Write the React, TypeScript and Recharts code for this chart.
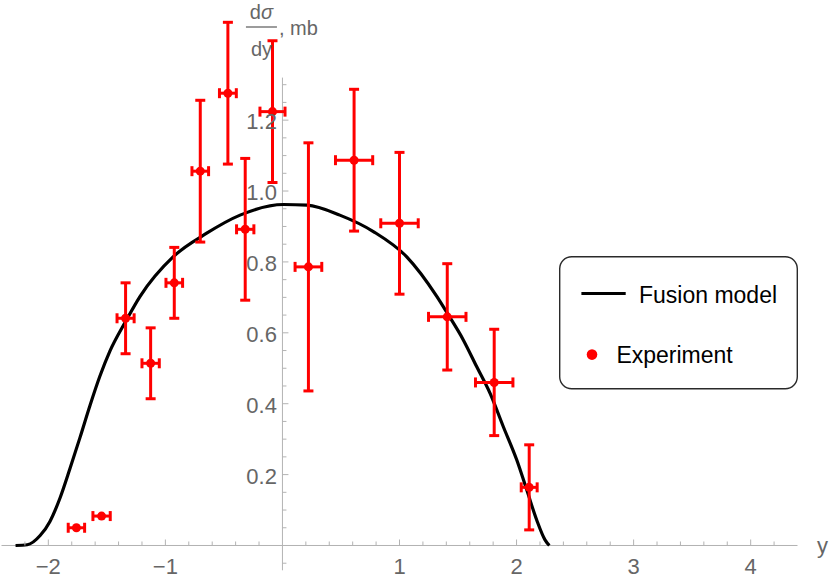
import React from 'react';
import {
  ComposedChart,
  Line,
  Scatter,
  XAxis,
  YAxis,
  ErrorBar,
  ReferenceLine,
  Legend,
} from 'recharts';

// ---------- data ----------
const EXP_X = [-1.76, -1.545, -1.34, -1.126, -0.924, -0.702, -0.466, -0.318, -0.085, 0.222, 0.612, 1.0, 1.408, 1.809, 2.108];
const EXP_Y = [0.05, 0.083, 0.641, 0.514, 0.741, 1.056, 1.276, 0.892, 1.224, 0.786, 1.087, 0.909, 0.645, 0.46, 0.164];
const EXP_DX = [0.07, 0.074, 0.073, 0.074, 0.071, 0.071, 0.072, 0.074, 0.107, 0.114, 0.159, 0.16, 0.16, 0.16, 0.068];
const EXP_DY = [0, 0, 0.1, 0.1, 0.1, 0.2, 0.2, 0.2, 0.2, 0.35, 0.2, 0.2, 0.15, 0.15, 0.12];

const MODEL_X = [-2.28, -2.18, -2.07, -1.986, -1.9, -1.815, -1.729, -1.644, -1.559, -1.473, -1.345, -1.216, -0.932, -0.647, -0.362, 0.01, 0.21, 0.49, 0.78, 1.06, 1.32, 1.409, 1.545, 1.66, 1.774, 1.887, 2.002, 2.087, 2.172, 2.243, 2.28];
const MODEL_Y = [0, 0.002, 0.028, 0.068, 0.134, 0.217, 0.305, 0.395, 0.478, 0.549, 0.629, 0.703, 0.815, 0.881, 0.932, 0.962, 0.96, 0.932, 0.885, 0.815, 0.702, 0.655, 0.58, 0.504, 0.429, 0.335, 0.241, 0.157, 0.072, 0.016, 0];

const X_TICKS = [-2.2, -2, -1.8, -1.6, -1.4, -1.2, -1, -0.8, -0.6, -0.4, -0.2, 0.2, 0.4, 0.6, 0.8, 1, 1.2, 1.4, 1.6, 1.8, 2, 2.2, 2.4, 2.6, 2.8, 3, 3.2, 3.4, 3.6, 3.8, 4, 4.2];
const X_LABELS = [-2, -1, 1, 2, 3, 4];
const Y_TICKS = [-0.05, 0.05, 0.1, 0.15, 0.2, 0.25, 0.3, 0.35, 0.4, 0.45, 0.5, 0.55, 0.6, 0.65, 0.7, 0.75, 0.8, 0.85, 0.9, 0.95, 1.0, 1.05, 1.1, 1.15, 1.2, 1.25, 1.3];
const Y_LABELS = [0.2, 0.4, 0.6, 0.8, 1.0, 1.2];

const X_DOMAIN: [number, number] = [-2.4, 4.4];
const Y_DOMAIN: [number, number] = [-0.07, 1.32];

const SERIES_MODEL = 'Fusion model';
const SERIES_EXP = 'Experiment';
const X_TITLE = 'y';

const EXP_DATA = EXP_X.map((x, i) => ({ x, y: EXP_Y[i], ex: EXP_DX[i], ey: EXP_DY[i] }));
const MODEL_DATA = MODEL_X.map((x, i) => ({ x, y: MODEL_Y[i] }));

// ---------- layout ----------
const W = 830;
const H = 580;
const PLOT_LEFT = 1.5;
const PLOT_RIGHT = 797.5;
const PLOT_TOP = 77.6;
const PLOT_BOTTOM = 570.3;
const AXIS_X_H = 1;
const AXIS_Y_W = 1;
const X0_PX = PLOT_LEFT + ((0 - X_DOMAIN[0]) / (X_DOMAIN[1] - X_DOMAIN[0])) * (PLOT_RIGHT - PLOT_LEFT);
const Y0_PX = PLOT_TOP + ((Y_DOMAIN[1] - 0) / (Y_DOMAIN[1] - Y_DOMAIN[0])) * (PLOT_BOTTOM - PLOT_TOP);

const AXIS_COLOR = '#b3b3b3';
const TEXT_COLOR = '#666666';
const RED = '#ff0000';
const FONT = '"Liberation Sans", Arial, sans-serif';

const isIn = (v: number, list: number[]) => list.some((l) => Math.abs(l - v) < 1e-6);
const fmtX = (v: number) => (v < 0 ? '\u2212' + Math.abs(v) : String(v));

function XTick(props: any) {
  const { x, payload } = props;
  const v = payload.value as number;
  const major = isIn(v, X_LABELS);
  return (
    <g>
      <line x1={x} x2={x} y1={Y0_PX} y2={Y0_PX - (major ? 6 : 4)} stroke={AXIS_COLOR} strokeWidth={1} />
      {major && (
        <text x={x} y={Y0_PX + 13} dy="0.71em" textAnchor="middle" fontSize={22} fill={TEXT_COLOR} fontFamily={FONT}>
          {fmtX(v)}
        </text>
      )}
    </g>
  );
}

function YTick(props: any) {
  const { y, payload } = props;
  const v = payload.value as number;
  const major = isIn(v, Y_LABELS);
  return (
    <g>
      <line x1={X0_PX} x2={X0_PX + (major ? 6 : 4)} y1={y} y2={y} stroke={AXIS_COLOR} strokeWidth={1} />
      {major && (
        <text x={X0_PX - 5.5} y={y} dy="0.42em" textAnchor="end" fontSize={22} fill={TEXT_COLOR} fontFamily={FONT}>
          {v.toFixed(1)}
        </text>
      )}
    </g>
  );
}

function YTitle() {
  const cx = X0_PX - 21;
  return (
    <g fontFamily={FONT} fill={TEXT_COLOR} fontSize={20}>
      <text x={cx} y={18.5} textAnchor="middle">
        d<tspan fontStyle="italic">σ</tspan>
      </text>
      <line x1={cx - 15.5} x2={cx + 15.5} y1={27} y2={27} stroke={TEXT_COLOR} strokeWidth={1.3} />
      <text x={cx} y={56} textAnchor="middle">dy</text>
      <text x={X0_PX - 3.5} y={35}>, mb</text>
    </g>
  );
}

function XTitle() {
  return (
    <text x={PLOT_RIGHT + 19.5} y={Y0_PX + 7.5} fontSize={22} fill={TEXT_COLOR} fontFamily={FONT}>
      {X_TITLE}
    </text>
  );
}

function LegendBox(props: any) {
  const payload: any[] = props.payload || [];
  const rows = [...payload].sort((a, b) => (a.type === 'line' ? -1 : 1) - (b.type === 'line' ? -1 : 1));
  return (
    <svg width={240} height={135} style={{ display: 'block' }}>
      <rect x={0.7} y={0.7} width={237.6} height={132} rx={12} ry={12} fill="#ffffff" stroke="#2a2a2a" strokeWidth={1.4} />
      {rows.map((p, i) => {
        const isLine = p.type === 'line';
        if (isLine) {
          return (
            <g key={i}>
              <line x1={22.4} x2={66.7} y1={37.6} y2={37.6} stroke="#000" strokeWidth={3} />
              <text x={80} y={46.6} fontSize={23} fill="#000" fontFamily={FONT}>{p.value}</text>
            </g>
          );
        }
        return (
          <g key={i}>
            <circle cx={33} cy={98.6} r={5.3} fill={RED} />
            <text x={57.4} y={106.6} fontSize={23} fill="#000" fontFamily={FONT}>{p.value}</text>
          </g>
        );
      })}
    </svg>
  );
}

export default function App() {
  return (
    <div style={{ position: 'absolute', left: 0, top: 0, width: W, height: H, background: '#fff' }}>
      <ComposedChart
        width={W}
        height={H}
        margin={{
          top: PLOT_TOP,
          right: W - PLOT_RIGHT,
          bottom: H - PLOT_BOTTOM - AXIS_X_H,
          left: PLOT_LEFT - AXIS_Y_W,
        }}
        style={{ fontFamily: FONT }}
      >
        <XAxis
          type="number"
          dataKey="x"
          domain={X_DOMAIN}
          allowDataOverflow
          ticks={X_TICKS}
          interval={0}
          height={AXIS_X_H}
          axisLine={false}
          tickLine={false}
          tick={(p: any) => <XTick {...p} />}
          label={(p: any) => <XTitle />}
        />
        <YAxis
          type="number"
          dataKey="y"
          domain={Y_DOMAIN}
          allowDataOverflow
          ticks={Y_TICKS}
          interval={0}
          width={AXIS_Y_W}
          axisLine={false}
          tickLine={false}
          tick={(p: any) => <YTick {...p} />}
          label={(p: any) => <YTitle />}
        />
        <ReferenceLine y={0} stroke={AXIS_COLOR} strokeWidth={1} />
        <ReferenceLine x={0} stroke={AXIS_COLOR} strokeWidth={1} />
        <Line
          data={MODEL_DATA}
          dataKey="y"
          name={SERIES_MODEL}
          type="monotone"
          stroke="#000"
          strokeWidth={3.2}
          dot={false}
          activeDot={false}
          legendType="line"
          isAnimationActive={false}
        />
        <Scatter
          data={EXP_DATA}
          dataKey="y"
          name={SERIES_EXP}
          fill={RED}
          legendType="circle"
          isAnimationActive={false}
        >
          <ErrorBar dataKey="ey" direction="y" width={5} stroke={RED} strokeWidth={3} isAnimationActive={false} />
          <ErrorBar dataKey="ex" direction="x" width={5} stroke={RED} strokeWidth={3} isAnimationActive={false} />
        </Scatter>
        <Legend
          layout="vertical"
          align="center"
          verticalAlign="middle"
          content={(p: any) => <LegendBox {...p} />}
          wrapperStyle={{ position: 'absolute', left: 559.3, top: 256.2, width: 240, height: 135, margin: 0, padding: 0 }}
        />
      </ComposedChart>
    </div>
  );
}
